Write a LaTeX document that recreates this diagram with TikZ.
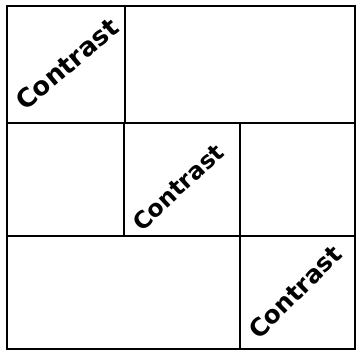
\documentclass[tikz,border=0pt]{standalone}
\usepackage{fontspec}
\setsansfont{DejaVu Sans}
\begin{document}
\begin{tikzpicture}[x=0.03cm, y=-0.03cm, line width=1.4pt]
    \useasboundingbox (0,0) rectangle (356,351);
    % 3x3 grid, cells merged off the diagonal
    \draw (7,6) rectangle (355,349);
    \draw (7,123) -- (355,123);
    \draw (7,236) -- (355,236);
    \draw (125,6) -- (125,123);
    \draw (124,123) -- (124,236);
    \draw (240,123) -- (240,349);
    % diagonal labels
    \node[rotate=40, font=\sffamily\bfseries\fontsize{22}{26}\selectfont] (con1) at (67,64) {Contrast};
    \node[rotate=43, font=\sffamily\bfseries\fontsize{20}{24}\selectfont] (con2) at (178,187) {Contrast};
    \node[rotate=45, font=\sffamily\bfseries\fontsize{21}{25}\selectfont] (con3) at (295,292) {Contrast};
\end{tikzpicture}
\end{document}
